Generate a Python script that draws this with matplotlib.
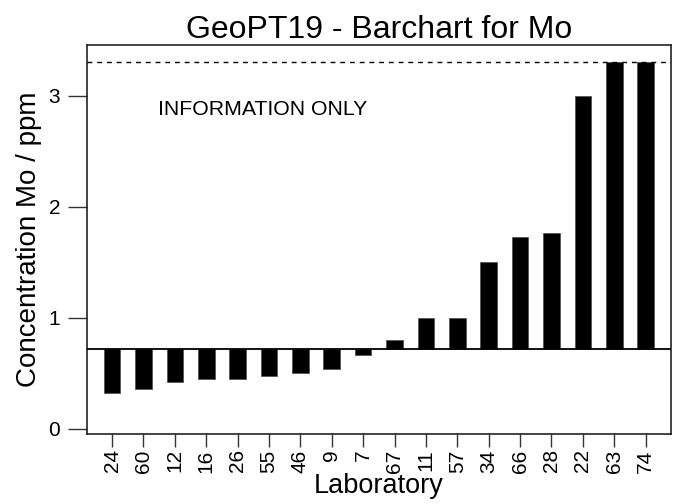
import matplotlib
matplotlib.use("Agg")
import matplotlib.pyplot as plt
import numpy as np

labs = ["24", "60", "12", "16", "26", "55", "46", "9", "7", "67",
        "11", "57", "34", "66", "28", "22", "63", "74"]
values = [0.32, 0.355, 0.418, 0.445, 0.445, 0.475, 0.50, 0.54, 0.66, 0.797,
          1.0, 1.0, 1.506, 1.726, 1.767, 3.0, 3.31, 3.31]
assigned = 0.72
upper = 3.307
yticks = [0, 1, 2, 3]

plt.rcParams['font.family'] = ['Liberation Sans', 'DejaVu Sans']

fig = plt.figure(figsize=(6.81, 5.04), dpi=100)
ax = fig.add_axes([0.1273, 0.1389, 0.9849 - 0.1273, 0.9101 - 0.1389])

x = np.arange(len(labs))
heights = [v - assigned for v in values]
ax.bar(x, heights, bottom=assigned, width=0.53, color='black',
       edgecolor='#555555', linewidth=0.6, zorder=2)
ax.axhline(assigned, color='black', linewidth=1.3, zorder=3)
ax.axhline(upper, color='black', linewidth=1.0, linestyle=(0, (3.5, 3.5)), zorder=3)

ax.set_xlim(-0.81, len(labs) - 1 + 0.8)
ax.set_ylim(-0.048, 3.457)
ax.set_xticks(x)
ax.set_xticklabels(labs, rotation=90, fontsize=15)
ax.set_yticks(yticks)
ax.set_yticklabels([str(t) for t in yticks], fontsize=15)
ax.tick_params(axis='y', length=14, width=1.0, pad=5, color='#333333')
ax.tick_params(axis='x', length=9, width=1.0, pad=2, color='#333333')
for s in ax.spines.values():
    s.set_linewidth(1.2)
    s.set_color('#222222')

ax.set_ylabel("Concentration Mo / ppm", fontsize=20, labelpad=5)
ax.set_xlabel("Laboratory", fontsize=19.5, labelpad=0)
ax.set_title("GeoPT19 - Barchart for Mo", fontsize=23, pad=3)
ax.text(0.122, 0.835, "INFORMATION ONLY", transform=ax.transAxes,
        fontsize=15.3, ha='left', va='center')

fig.savefig("out.png", dpi=100)
